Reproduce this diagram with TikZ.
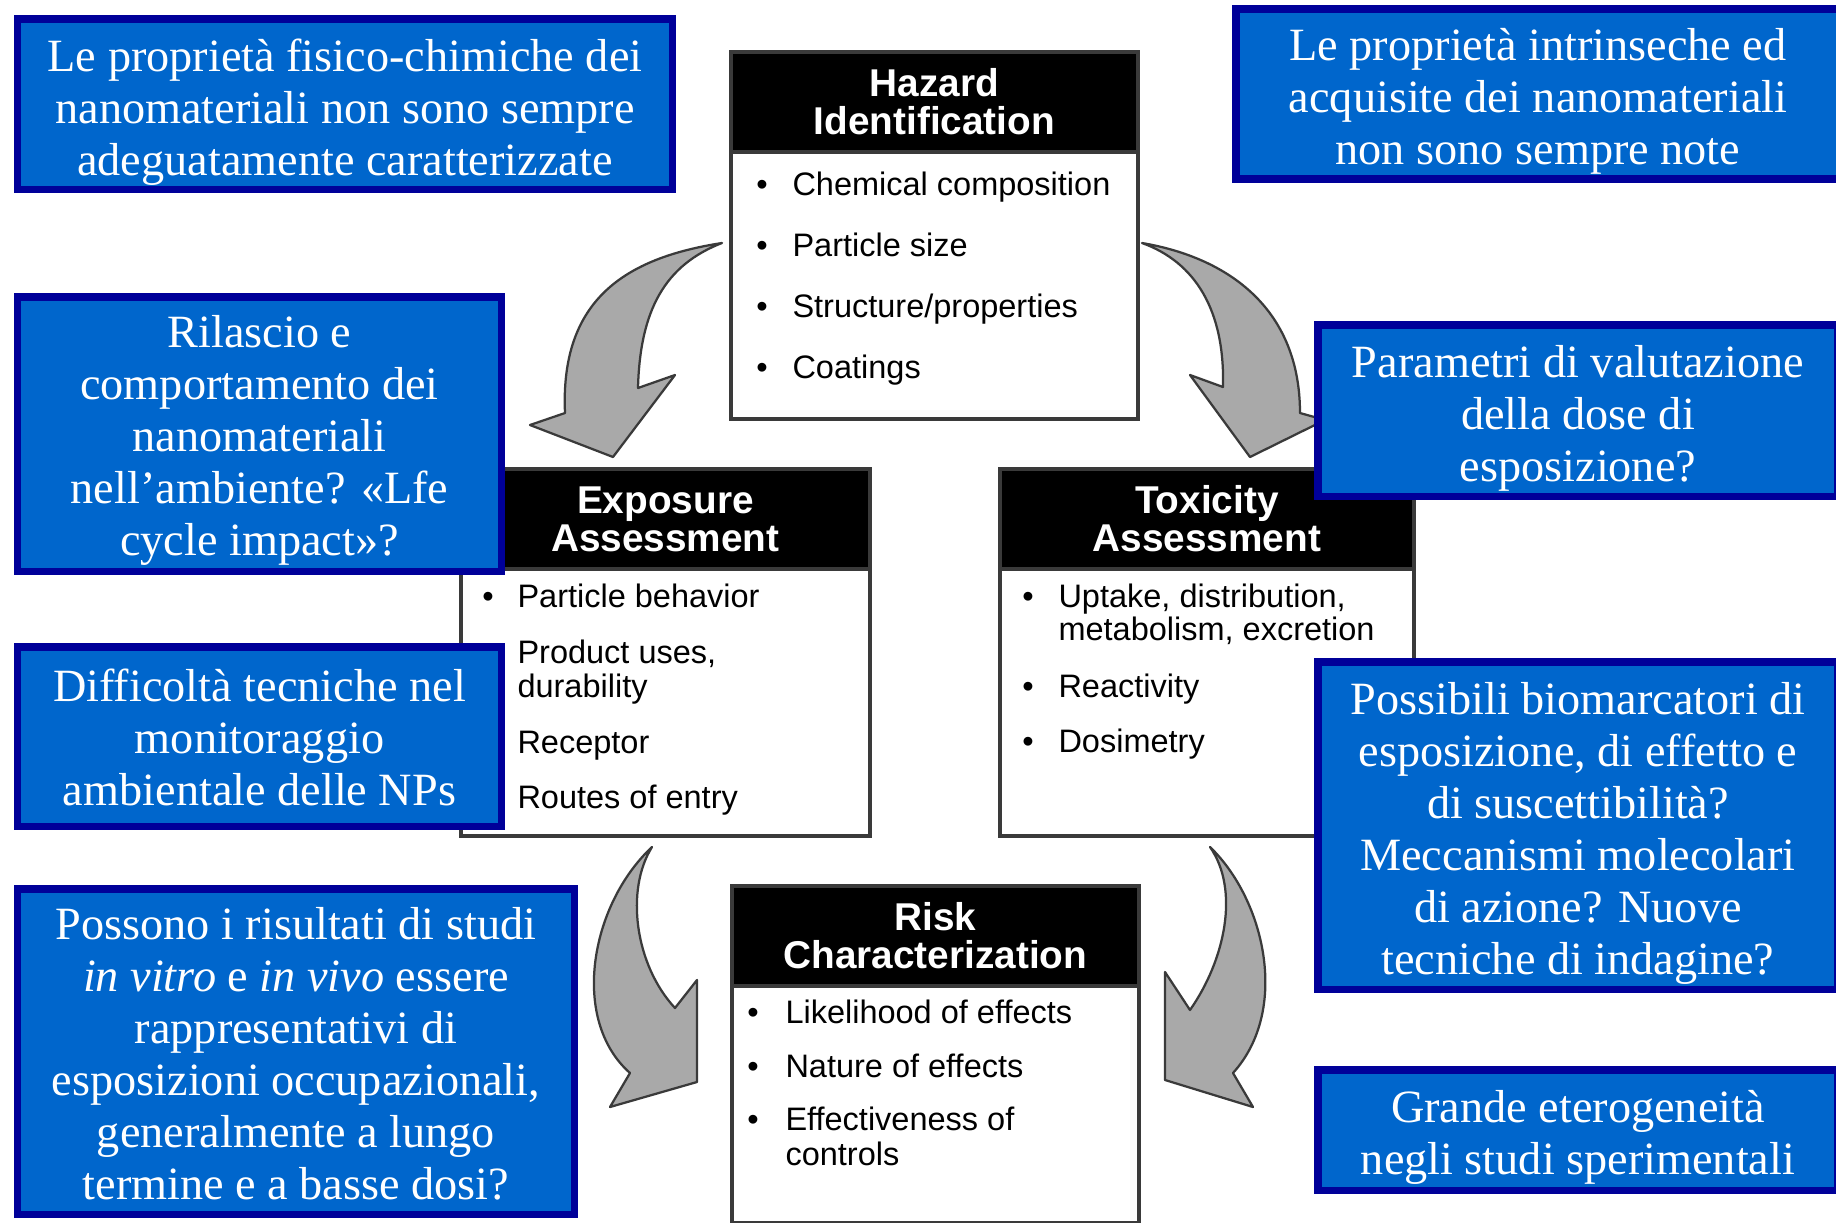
\documentclass[tikz,border=0pt]{standalone}
\usepackage{fontspec}
\setmainfont{Liberation Serif}
\setsansfont{Liberation Sans}
\usetikzlibrary{positioning}
\definecolor{notenavy}{HTML}{000099}
\definecolor{notefill}{HTML}{0066CC}
\definecolor{arrowgray}{HTML}{A9A9A9}
\definecolor{edgegray}{HTML}{3A3A3A}

\begin{document}
\begin{tikzpicture}[
    x=0.4pt, y=-0.4pt,
    notebox/.style={rectangle, draw=notenavy, fill=notefill, line width=3pt,
                    inner sep=0pt},
    notetext/.style={text=white, align=center, inner sep=0pt,
                     font=\fontsize{18.5}{20.8}\selectfont},
    panel/.style={rectangle, draw=edgegray, fill=white, line width=1.5pt,
                  inner sep=0pt, anchor=north west},
    head/.style={rectangle, draw=edgegray, fill=black, line width=1.5pt,
                 text=white, align=center, inner sep=0pt, anchor=north west,
                 minimum height=40pt,
                 font=\sffamily\bfseries\fontsize{15.5}{15.2}\selectfont},
    item/.style={anchor=base west, inner sep=0pt,
                 font=\sffamily\fontsize{13}{13}\selectfont},
    dot/.style={anchor=base, inner sep=0pt,
                font=\sffamily\fontsize{13}{13}\selectfont},
    curlarrow/.style={fill=arrowgray, draw=edgegray, line width=0.9pt, line join=round}
]
\clip (0,0) rectangle (1836,1222);

%% Curved arrows
\filldraw[curlarrow] (722,243) .. controls (625,258) and (560,300) .. (565,413)
    -- (530,425) -- (613,457) -- (675,375) -- (638,388)
    .. controls (640,310) and (665,265) .. (722,243) -- cycle;
\filldraw[curlarrow] (1142,243) .. controls (1230,258) and (1300,310) .. (1300,413)
    -- (1325,420) -- (1250,457) -- (1190,375) -- (1223,387)
    .. controls (1225,310) and (1195,262) .. (1142,243) -- cycle;
\filldraw[curlarrow] (652,847) .. controls (590,905) and (570,1020) .. (630,1073)
    -- (610,1107) -- (697,1082) -- (697,980) -- (675,1008)
    .. controls (635,965) and (625,890) .. (652,847) -- cycle;
\filldraw[curlarrow] (1210,847) .. controls (1265,900) and (1290,1010) .. (1233,1073)
    -- (1253,1107) -- (1165,1080) -- (1165,972) -- (1190,1010)
    .. controls (1225,960) and (1240,890) .. (1210,847) -- cycle;

%% Hazard identification
\node[panel, minimum width=162.8pt, minimum height=146.8pt] (hazbox) at (729,50) {};
\node[head, minimum width=162.8pt] (hazhead) at (729,50) {Hazard\\Identification};
\foreach \yy/\txt [count=\i] in {195/Chemical composition, 256/Particle size,
                                 317/{Structure/properties}, 378/Coatings}{
  \node[dot] (hazdot\i) at (762,\yy) {\textbullet};
  \node[item] (hazitem\i) at (792,\yy) {\txt};
}

%% Exposure assessment
\node[panel, minimum width=163.6pt, minimum height=146.8pt] (expbox) at (459,467) {};
\node[head, minimum width=163.6pt] (exphead) at (459,467) {Exposure\\Assessment};
\node[dot] (expdot1) at (488,607) {\textbullet};
\foreach \yy/\txt [count=\i] in {607/Particle behavior, 663/{Product uses,},
                                 697/durability, 753/Receptor, 808/Routes of entry}{
  \node[item] (expitem\i) at (517,\yy) {\txt};
}

%% Toxicity assessment
\node[panel, minimum width=165.6pt, minimum height=146.8pt] (toxbox) at (998,467) {};
\node[head, minimum width=165.6pt] (toxhead) at (998,467) {Toxicity\\Assessment};
\foreach \yy [count=\i] in {607, 697, 752}{
  \node[dot] (toxdot\i) at (1028,\yy) {\textbullet};
}
\foreach \yy/\txt [count=\i] in {607/{Uptake, distribution,}, 640/{metabolism, excretion},
                                 697/Reactivity, 752/Dosimetry}{
  \node[item] (toxitem\i) at (1058,\yy) {\txt};
}

%% Risk characterization
\node[panel, minimum width=162.8pt, minimum height=134.8pt] (riskbox) at (730,884) {};
\node[head, minimum width=162.8pt] (riskhead) at (730,884) {Risk\\Characterization};
\foreach \yy [count=\i] in {1023, 1077, 1130}{
  \node[dot] (riskdot\i) at (753,\yy) {\textbullet};
}
\foreach \yy/\txt [count=\i] in {1023/Likelihood of effects, 1077/Nature of effects,
                                 1130/Effectiveness of, 1165/controls}{
  \node[item] (riskitem\i) at (785,\yy) {\txt};
}

%% Notes, left column
\node[notebox, minimum width=261.8pt, minimum height=68.2pt] (notefis) at (345,104) {};
\node[notetext, yshift=-3.1pt] (notefistxt) at (notefis.center)
  {Le proprietà fisico-chimiche dei\\nanomateriali non sono sempre\\adeguatamente caratterizzate};
\node[notebox, minimum width=193.4pt, minimum height=109.8pt] (noterel) at (259.5,434) {};
\node[notetext, yshift=-2.4pt] (notereltxt) at (noterel.center)
  {Rilascio e\\comportamento dei\\nanomateriali\\nell’ambiente? «Lfe\\cycle impact»?};
\node[notebox, minimum width=193.4pt, minimum height=71.8pt] (notemon) at (259.5,736.5) {};
\node[notetext, yshift=-0.3pt] (notemontxt) at (notemon.center)
  {Difficoltà tecniche nel\\monitoraggio\\ambientale delle NPs};
\node[notebox, minimum width=222.6pt, minimum height=130.2pt] (notestu) at (296,1051.5) {};
\node[notetext, yshift=-1pt] (notestutxt) at (notestu.center)
  {Possono i risultati di studi\\\textit{in vitro} e \textit{in vivo} essere\\rappresentativi di\\esposizioni occupazionali,\\generalmente a lungo\\termine e a basse dosi?};

%% Notes, right column
\node[notebox, minimum width=241.6pt, minimum height=68pt] (noteint) at (1538,94) {};
\node[notetext, yshift=-3pt] (noteinttxt) at (noteint.center)
  {Le proprietà intrinseche ed\\acquisite dei nanomateriali\\non sono sempre note};
\node[notebox, minimum width=208pt, minimum height=68.6pt] (notedos) at (1578,410.5) {};
\node[notetext, yshift=-3.3pt] (notedostxt) at (notedos.center)
  {Parametri di valutazione\\della dose di\\esposizione?};
\node[notebox, minimum width=208pt, minimum height=131pt] (notebio) at (1578,825.5) {};
\node[notetext, yshift=-3pt] (notebiotxt) at (notebio.center)
  {Possibili biomarcatori di\\esposizione, di effetto e\\di suscettibilità?\\Meccanismi molecolari\\di azione? Nuove\\tecniche di indagine?};
\node[notebox, minimum width=208pt, minimum height=48.2pt] (notehet) at (1578,1130) {};
\node[notetext, yshift=-2.8pt] (notehettxt) at (notehet.center)
  {Grande eterogeneità\\negli studi sperimentali};

\end{tikzpicture}
\end{document}
